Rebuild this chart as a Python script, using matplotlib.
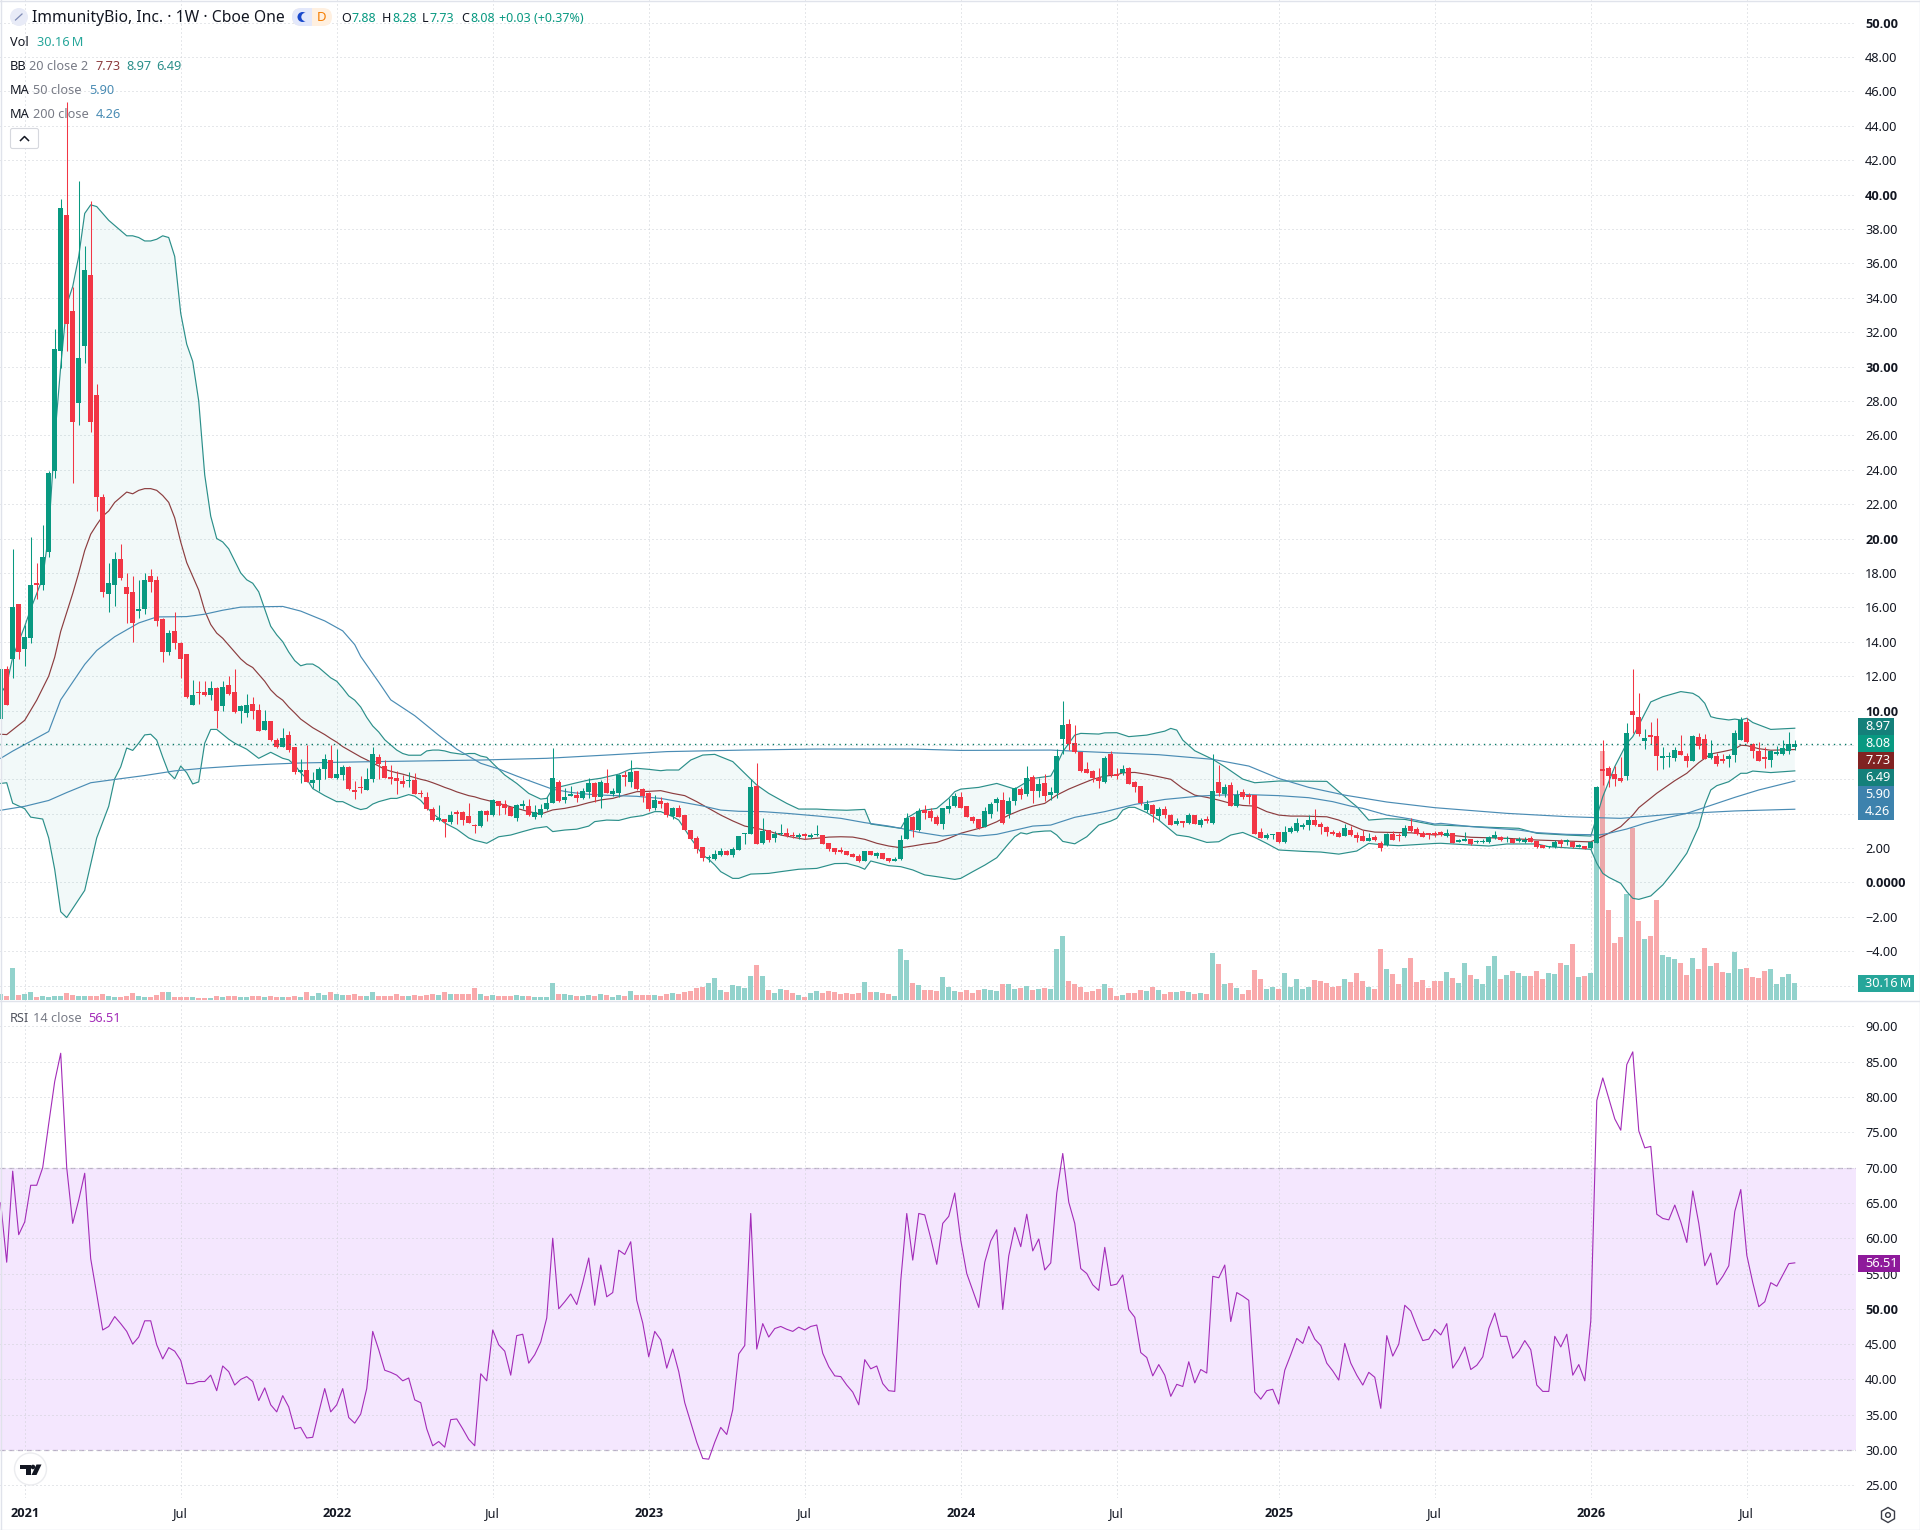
import numpy as np
import matplotlib
matplotlib.use("Agg")
import matplotlib.pyplot as plt
from matplotlib.patches import Circle, FancyBboxPatch, Polygon, Rectangle, RegularPolygon

plt.rcParams['font.family'] = ['Noto Sans', 'DejaVu Sans']

# =================================
# Weekly candles (one row = 10 weeks)
# =================================
opens = [
    9.5,12.4,13,16.2,13.6,14.2,17.35,17.3,19.2,23.9,
    30.9,38.8,33.2,27.9,31.2,35.3,28.35,22.4,16.8,17.3,
    18.8,17.2,16.9,15.8,15.9,17.8,17.6,15.3,13.4,14.6,
    13.9,13.3,10.3,11.05,11.05,10.9,11.3,10.25,11.5,11.1,
    9.95,9.85,10.4,10.05,8.85,9.4,8.3,7.9,8.6,7.9,
    6.45,6.55,5.8,5.95,6.6,7.1,6.1,6.25,6.7,5.35,
    5.5,5.4,6,7.3,6.8,6.07,6.05,5.9,5.88,5.95,
    5.18,5,4.28,3.65,3.7,3.5,4.05,4.1,3.85,3.3,
    3.3,4.15,3.92,4.72,4.56,4.37,3.77,4.45,4.43,3.83,
    3.92,4.25,4.64,5.82,4.8,5.03,5.09,4.89,5.26,5.78,
    4.97,5.78,5.13,5.22,6.19,5.84,6.48,5.45,5.22,4.31,
    4.74,4.64,3.87,4.33,3.92,3.07,2.59,2.04,1.4,1.35,
    1.58,1.85,1.58,1.9,2.8,2.82,5.61,2.3,3.05,2.58,
    2.8,2.86,2.72,2.65,2.75,2.66,2.74,2.74,2.3,1.99,
    1.83,1.81,1.68,1.54,1.25,1.83,1.52,1.72,1.43,1.27,
    1.37,2.53,3.8,3.05,4.22,4.16,3.79,3.4,4.27,4.45,
    4.97,4.44,3.8,3.67,3.22,3.98,4.64,4.79,3.98,4.75,
    5.43,5.14,6.11,5.32,5.78,5.08,5.22,8.34,9.19,8.09,
    7.6,6.6,6.5,6.07,5.86,7.5,6.25,6.34,6.67,5.84,
    5.6,4.21,4.5,3.86,4.27,3.92,3.42,3.57,3.44,3.92,
    3.36,3.62,3.44,5.82,5.14,5.65,4.46,5.26,4.99,5.08,
    2.93,2.58,2.74,2.93,2.35,2.91,3.0,3.2,3.34,3.63,
    3.4,3.22,2.95,2.89,2.72,3.07,2.78,2.7,2.41,2.64,
    2.27,2.18,2.84,2.72,2.72,3.28,3.09,2.86,2.78,2.87,
    2.92,2.7,2.88,2.38,2.41,2.51,2.33,2.34,2.38,2.59,
    2.67,2.51,2.53,2.41,2.36,2.61,2.39,2.18,2.04,2.05,
    2.41,2.36,2.38,2.07,2.12,2.01,2.32,6.54,6.66,6.29,
    6.08,6.21,9.97,9.62,8.23,8.5,8.52,7.25,7.28,7.24,
    7.65,7.36,7.07,8.44,8.34,7.26,7.36,7.1,7.18,7.43,
    8.31,9.31,8.03,7.63,7.22,7.12,7.47,7.47,7.67,7.88,
]
highs = [
    12.5,12.6,19.4,16.2,15,20.1,18.6,20.8,23.9,32.2,
    39.75,45.4,34.6,40.8,37,39.6,29,22.6,18.6,19.2,
    19.7,18,17.8,17.6,18,18.2,17.8,15.4,14.7,15.7,
    14,13.3,11.8,11.7,11.7,11.7,11.35,11.7,12,12.4,
    10.3,10.95,10.8,10.4,10.05,9.4,8.4,9,8.8,7.9,
    7.2,8,6.45,6.7,7.45,8,7.75,6.85,6.8,5.9,
    6.2,6.65,7.9,7.5,7.15,6.85,6.5,6.25,6.45,6.35,
    5.35,5.25,4.4,4.5,3.7,4.15,4.2,4.15,4.65,3.4,
    4.2,4.2,4.85,4.75,4.8,4.37,4.55,4.8,4.85,4.5,
    4.56,4.95,7.8,5.96,5.47,5.61,5.32,5.47,6.05,5.86,
    5.96,6.58,5.5,6.3,6.5,7.12,6.48,5.5,5.25,5.07,
    4.95,4.7,4.4,4.5,3.95,3.07,2.7,2.05,1.6,1.9,
    1.99,1.9,2.06,2.72,2.85,6.04,6.93,3.75,3.05,3,
    3.4,3.15,2.94,2.88,2.86,2.88,3.34,2.74,2.3,1.99,
    2.06,1.82,1.72,1.66,1.83,1.83,1.78,1.72,1.45,1.5,
    2.76,4.02,3.85,4.35,4.5,4.31,3.92,4.33,4.9,5.2,
    5.24,4.46,3.86,3.7,4.39,4.66,4.95,5.24,5,5.57,
    5.57,6.77,6.25,6.07,6.3,5.57,7.74,10.53,9.48,9.13,
    7.6,6.98,6.54,6.65,7.33,7.64,6.63,6.83,6.7,5.92,
    5.6,4.79,4.55,4.4,4.44,3.98,3.75,3.6,4.04,3.95,
    3.73,3.86,7.45,6.83,5.7,5.86,5.37,5.43,5.18,5.08,
    3.15,2.88,2.84,2.95,3.28,3.3,3.73,3.47,3.92,4.25,
    3.49,3.28,3.07,3,3.4,3.28,2.91,3.05,2.85,2.76,
    2.39,2.85,3.01,2.85,3.32,3.73,3.2,2.99,2.85,2.99,
    3,3.09,2.9,2.5,2.92,2.55,2.45,2.5,2.72,3.01,
    2.7,2.72,2.57,2.67,2.65,2.7,2.42,2.2,2.1,2.47,
    2.53,2.53,2.4,2.24,2.14,2.41,5.6,8.28,6.77,6.77,
    7.28,9.25,12.39,11,8.93,9.31,9.55,7.9,7.6,7.9,
    8.58,7.51,8.58,8.67,8.63,8.29,7.51,7.45,7.47,8.87,
    9.64,9.55,8.13,8.15,7.9,7.68,7.94,8.29,8.75,8.28,
]
lows = [
    9.5,10.3,11.9,13,12.6,13.9,16.5,17,18.9,23.5,
    29.9,30.9,23.2,26.6,30.2,26.2,21.6,16.6,15.7,16.1,
    17.6,15.1,14,15.4,15.6,16.9,14.9,12.8,13.2,13.6,
    11.9,10.7,10.3,10.4,10.85,10.6,9,10,10.9,9.85,
    9.3,9.6,9.5,8.8,8.85,8.2,7.8,7.9,7.6,6.3,
    5.8,5.85,5.5,5.3,6,6.05,6,5.95,5.35,4.85,
    5.2,5.4,5.85,6,6.05,5.75,5.15,5.55,5.55,5.15,
    5,4.2,3.6,3.6,2.65,3.4,3.4,3.35,3.45,2.9,
    3.25,3.57,3.85,3.9,4,3.88,3.55,4.25,3.86,3.71,
    3.79,4.2,4.6,4.68,4.62,5.03,4.68,4.83,4.91,4.7,
    4.35,5.2,5.03,4.95,5.6,5.53,5.4,4.7,4.15,4.21,
    4.35,3.83,3.71,3.8,3.05,2.5,1.73,1.27,1.2,1.3,
    1.55,1.6,1.5,1.9,2.24,2.8,2.26,2.24,2.35,2.37,
    2.75,2.65,2.6,2.51,2.53,2.57,2.7,2.24,1.85,1.65,
    1.7,1.58,1.48,1.22,1.25,1.6,1.42,1.35,1.22,1.27,
    1.3,2.5,2.65,3,3.69,3.6,3.34,3.13,4.06,4.4,
    4.35,3.82,3.48,3.13,3.2,3.77,4.17,3.42,3.77,4.52,
    4.85,5.05,4.62,4.95,4.75,4.79,4.89,7.5,7.72,7.54,
    6.4,6.35,5.86,5.49,5.8,6.15,6.01,6.25,5.72,5.28,
    4.48,4.12,3.53,3.63,3.77,3.36,3.34,3.24,3.38,3.4,
    3.22,3.46,3.4,5.05,4.99,4.46,4.4,4.87,4.56,2.84,
    2.58,2.53,2.55,2.3,2.3,2.85,2.95,3.09,3.07,3.3,
    2.84,2.72,2.74,2.66,2.7,2.72,2.37,2.41,2.39,2.41,
    1.83,2.15,2.45,2.43,2.66,2.95,2.76,2.66,2.55,2.65,
    2.7,2.67,2.3,2.35,2.4,2.18,2.3,2.3,2.32,2.55,
    2.4,2.38,2.32,2.36,2.3,2.38,2.03,2,1.98,2,
    2.08,2.18,2.03,2.05,1.93,1.95,2.3,5.67,5.57,5.63,
    5.85,5.96,8.67,8.52,7.76,8.05,6.54,6.6,6.74,7.08,
    7.4,6.74,7.05,7.76,7.18,7.2,6.79,6.93,6.72,7.03,
    8.3,8.1,7.26,7.05,6.68,6.74,7.41,7.4,7.49,7.73,
]
closes = [
    12.4,10.3,16,13.4,14.3,17.3,17.3,18.9,23.8,31,
    39.2,32.5,26.8,30.5,35.6,26.8,22.4,16.9,17.4,18.8,
    17.7,16.8,15.1,15.9,17.6,17.5,15.2,13.4,14.5,13.9,
    13,10.8,10.9,11,10.9,11.3,10,11.35,10.95,9.9,
    10.25,10.3,10,8.8,9.4,8.3,7.85,8.4,7.7,6.4,
    6.5,5.85,5.95,6.6,7.2,6.05,6.3,6.7,5.45,5.25,
    5.48,6,7.45,6.9,6.1,6.03,5.9,5.75,5.92,5.15,
    5.13,4.25,3.65,3.75,3.5,3.95,4,3.65,3.45,3.27,
    4.16,3.92,4.8,4.45,4.33,3.88,4.5,4.48,3.94,4.08,
    4.27,4.62,6.08,4.76,4.97,5.15,4.91,5.34,5.78,4.97,
    5.84,5.2,5.32,6.27,6.15,6.42,5.44,5.03,4.25,4.78,
    4.54,3.92,4.33,3.81,3.07,2.53,1.97,1.4,1.43,1.66,
    1.85,1.62,1.95,2.7,2.83,5.55,2.26,3.01,2.45,2.8,
    2.84,2.68,2.68,2.76,2.72,2.78,2.78,2.24,1.95,1.75,
    1.78,1.6,1.5,1.25,1.83,1.6,1.7,1.39,1.25,1.3,
    2.47,3.75,3.05,4.16,4.02,3.77,3.4,4.33,4.45,5.03,
    4.35,3.82,3.57,3.18,4.13,4.56,4.83,3.46,4.73,5.49,
    5.08,6.07,5.32,5.7,5.03,5.26,7.33,9.13,8.07,7.56,
    6.48,6.36,6.09,5.9,7.24,6.25,6.2,6.6,5.72,5.57,
    4.6,4.58,4,4.25,3.94,3.36,3.57,3.47,3.92,3.42,
    3.63,3.58,5.32,5.2,5.55,4.46,5.08,4.97,4.96,2.84,
    2.58,2.76,2.82,2.35,2.91,3.15,3.46,3.36,3.63,3.34,
    3.2,2.93,2.8,2.66,3.17,2.76,2.6,2.41,2.58,2.45,
    2.02,2.82,2.49,2.68,3.15,2.99,2.84,2.66,2.75,2.74,
    2.77,2.86,2.3,2.47,2.53,2.26,2.37,2.42,2.63,2.74,
    2.47,2.55,2.32,2.44,2.49,2.38,2.07,2.03,2.06,2.38,
    2.24,2.39,2.05,2.1,1.95,2.36,5.55,6.5,6.21,6.02,
    5.88,8.69,9.74,8.62,8.4,8.46,7.38,7.3,7.33,7.69,
    7.41,7.07,8.52,7.94,7.18,7.51,6.89,7.06,7.36,8.67,
    9.45,8.19,7.67,7.08,7.18,7.65,7.59,7.8,8.05,8.08,
]

# Volume in millions of shares
volumes = [
    10,7,56,8.4,10.5,14,5,7,5,6.3,
    7.7,12,8.4,7,7.7,7,7,10.5,7.7,5,
    5,7,12,7,5,5,8.4,14,14,5,
    5,5,5,3.5,3.5,3.5,7,5,6.3,7,
    5.6,5,6.3,7,5,7,5.6,5,5,7,
    6,15,7,12,8.4,14,11,8.4,8.4,10.5,
    7,7,15,7,7,7,10.5,7,7,8,
    7,8,11,8,15,10.5,10,10,10.5,22,
    10.6,7,9,7,7,7,9,7,7,5.3,
    5.3,5.3,30,10.6,10.6,8.9,7,7,8.9,7,
    10.6,8.9,5.3,8.9,7,16,8.9,8.9,8.9,8.9,
    7,10.6,12.4,10.6,14,16,21,23,30,39,
    17.7,14,26.5,25,21,42.5,62,42.5,17.7,12.4,
    19.5,17.7,12.4,8.9,5.3,12.4,16,12.4,16,14,
    10.6,12.4,10.6,12.4,32,14,14,12.4,10.6,7,
    90,71,30,26.5,17.7,17.7,16,41,23,16,
    14,17.7,12.4,17.7,19.5,17.7,16,28,28,19.5,
    21,25,17.7,19.5,21,19.5,90,113,33.6,28,
    23,14,16,19.5,28,21,7,8.9,12.4,12.4,
    17.7,16,23,17.7,10.6,14,14,16,14,10.6,
    12.4,10.6,83,64,28,30,21,10.6,17.7,53,
    37,19.5,23,19.5,48,23,37,19.5,23,35,
    33.6,30,23,25,37,32,48,33.6,23,19.5,
    90,55,46,28,57,74,32,35,21,33.6,
    34,50,39,30,65,44,37,28,60,78,
    37,44,51,48,42.5,42.5,51,37,48,46,
    65,62,99,41,42.5,48,330,442,159,101,
    111,188,305,140,108,113,177,80,76,73,
    65,44,74,55,92,60,65,50,48,85,
    55,57,41,39,51,55,28,41,46,30.16,
]

rsi = [
    65,56.6,69.5,60.5,62.3,67.5,67.5,70,76.2,82.2,
    86.2,70,62.1,65.4,69.2,57.1,52.1,47,47.5,48.9,
    47.9,46.8,45,46,48.3,48.3,44.9,42.9,44.5,44,
    42.7,39.4,39.4,39.7,39.7,40.6,38.4,41.9,41.1,39.2,
    40,40.4,39.7,37,38.8,36.4,35.4,37.7,36.1,33,
    33.2,31.7,31.8,35.3,38.7,35.4,36.4,38.7,34.6,33.8,
    35.1,38.7,46.8,44.2,41.3,41,40.6,39.8,40.2,37.1,
    36.7,33,30.6,31.2,30.4,34.3,34.4,33,31.5,30.6,
    40.8,39.8,47,44.9,44,40.6,46.2,46.4,42.3,43.5,
    45.3,48.7,60,50,51,52.1,50.6,53.7,57.2,50.5,
    56.2,51.7,52.3,58.3,57.7,59.5,51.2,48,43.2,46.8,
    45.6,41.6,44.3,41.1,36.7,33.9,31.1,28.8,28.7,31.1,
    33.2,32.2,35.7,43.6,44.8,63.5,44.3,47.9,46,47.2,
    47.5,47.1,46.8,47.4,47,47.5,47.7,43.7,41.8,40.5,
    40.4,39.2,38.2,36.4,42.8,41.5,41.9,39.4,38.4,38.3,
    54,63.5,56.9,63.5,63.3,60,56.3,62.1,63.1,66.4,
    59.7,55,52.6,50.2,56.6,59.6,61.2,49.9,57.5,61.5,
    58.8,63.4,58.2,59.9,55.5,56.5,66.4,72,65.1,62.1,
    55.7,55,53.4,52.6,58.7,53.3,53.5,54.8,49.9,48.8,
    43.8,43.1,40.5,42.1,40.6,37.6,39.3,39,42.5,39.5,
    41.4,40.9,54.6,54.4,56.2,48.2,52.3,51.8,51.2,38.2,
    37.2,38.4,38.6,36.5,41.3,43.5,45.8,45.1,47.5,45.7,
    44.8,42.3,41.2,39.9,45.1,42.3,40.6,39.2,41,40.3,
    35.9,46.2,43.3,45,50.5,49.7,47.5,45.5,45.7,47.1,
    46.3,47.9,41.6,42.9,44.6,41.4,42,43.2,47.2,49.4,
    46.1,46.1,43,44,45.5,44.2,39.2,38.3,38.3,46.1,
    44.6,46.4,40.6,42.1,39.8,48.3,79.5,82.7,79.8,76.9,
    75.3,84.6,86.4,75.2,72.8,73,63.4,62.8,62.6,64.7,
    62.3,59.4,66.7,62.1,56.1,57.9,53.4,54.6,56.1,63.8,
    66.9,57.6,53.7,50.3,51,53.7,53.2,54.8,56.4,56.51,
]

# =================================
# Indicator lines, read at these weeks
# =================================
bb_upper_wk = [0,1,2,4,5,7,8,9,10,11,12,13,14,15,16,17,18,19,20,21,22,23,24,25,26,27,28,29,30,31,32,33,
    34,35,36,37,38,39,40,41,42,43,44,45,46,47,48,49,50,51,52,53,54,55,56,57,58,59,60,61,62,63,64,65,66,67,68,69,70,71,72,73,74,75,76,77,78,79,
    80,81,82,84,86,88,90,91,92,94,96,98,100,103,105,106,108,110,111,113,115,117,119,122,124,126,128,131,133,136,138,141,144,145,150,151,153,156,158,159,
    160,163,166,169,171,172,175,176,177,178,179,180,183,184,186,188,191,194,195,196,197,199,202,204,207,209,213,221,223,226,228,231,234,239,
    240,248,253,256,261,265,266,267,269,271,272,275,277,279,280,282,283,284,285,286,288,289,290,291,292,295,299]
bb_upper = [11,11.5,13.1,14.9,15.9,17.7,20.3,25.8,30,33.6,34.65,36.4,38.9,39.4,39.3,38.9,38.5,38.2,37.9,37.6,37.6,37.5,37.3,37.3,37.4,37.6,37.5,36.4,33.1,31.3,30.3,28,
    23.7,21.3,20,19.8,19.4,18.7,18,17.6,17.4,16.9,15.9,14.9,14.4,14,13.4,12.9,12.6,12.7,12.7,12.5,12.2,11.9,11.7,11.3,10.85,10.6,10.2,9.6,9.1,8.75,8.3,8,7.7,7.5,7.4,7.4,7.4,7.65,7.7,7.7,7.65,7.55,7.5,7.45,7.5,7.5,
    7.35,7.28,6.93,6.25,5.76,5.18,4.85,4.89,5.47,5.63,5.8,5.96,6.06,6.3,6.6,6.64,6.58,6.5,6.54,6.54,7.12,7.41,7.45,7.03,6.35,5.67,5.18,4.6,4.27,4.27,4.23,4.2,4.25,3.4,3.15,3.75,4.16,4.31,4.9,5.28,
    5.43,5.53,5.76,5.43,5.85,6.05,6.19,6.83,7.6,8.09,8.57,8.67,8.63,8.7,8.71,8.48,8.57,8.8,8.96,8.86,8.28,7.66,7.16,6.73,6.01,5.8,5.9,5.88,5.28,4.41,3.63,3.71,3.67,3.34,
    3.34,3.21,3.15,2.86,2.76,2.7,3.83,4.99,6.74,8.09,8.48,10.5,10.8,11,11.1,11,10.8,10.42,9.64,9.55,9.45,9.5,9.45,9.55,9.3,8.9,8.97]

bb_mid_wk = [0,1,4,6,8,9,10,12,13,14,15,16,17,18,19,20,21,22,23,24,25,26,27,28,29,30,31,32,33,34,35,36,37,38,39,40,41,42,43,44,45,46,47,48,49,50,51,52,53,54,55,56,57,58,59,60,61,62,63,64,65,66,67,68,69,70,71,72,73,74,75,76,77,78,79,
    80,82,84,86,88,90,92,94,96,98,100,102,104,106,108,110,112,114,116,118,120,122,124,126,128,130,132,134,136,138,140,142,144,146,148,150,152,154,156,158,
    160,162,164,166,168,170,172,174,176,178,180,182,184,186,187,189,191,193,195,197,199,201,203,205,207,209,211,213,215,217,221,223,225,227,229,232,235,239,
    240,245,251,256,261,265,266,268,270,272,273,276,279,281,283,284,285,287,289,290,291,293,295,299]
bb_mid = [8.62,8.6,9.43,10.6,12,13.1,14.6,16.8,18,19.3,20.25,20.8,21.3,21.6,22.1,22.4,22.7,22.6,22.8,22.9,22.9,22.8,22.5,22.1,21.2,19.8,18.6,17.8,17,15.8,15,14.5,14.2,13.8,13.4,13,12.7,12.5,12.1,11.7,11.2,10.85,10.6,10.2,9.86,9.5,9.25,9,8.8,8.6,8.37,8.16,7.9,7.7,7.5,7.3,7.13,6.95,6.77,6.58,6.47,6.38,6.3,6.2,6.1,6,5.92,5.8,5.67,5.53,5.41,5.27,5.16,5.05,4.98,
    4.87,4.7,4.5,4.31,4.12,3.98,4.22,4.31,4.45,4.64,4.8,4.89,5.09,5.28,5.3,5.34,5.18,5.05,4.7,4.31,3.92,3.58,3.28,3.15,2.99,2.76,2.63,2.51,2.57,2.64,2.66,2.64,2.51,2.28,2.12,2.02,2.12,2.24,2.33,2.57,
    2.86,3.05,3.24,3.53,3.92,4.21,4.44,4.6,5.08,5.43,5.72,6,6.19,6.25,6.38,6.4,6.29,6.15,6,5.47,5.08,4.95,4.79,4.6,4.48,4.44,4.12,3.92,3.86,3.86,3.82,3.63,3.34,3.05,2.93,2.91,2.89,2.76,
    2.8,2.63,2.57,2.47,2.41,2.36,2.53,2.86,3.25,3.92,4.35,5.19,5.92,6.35,6.97,7.22,7.47,7.61,7.76,7.98,7.96,7.78,7.69,7.73]

bb_lower_wk = [0,1,2,4,5,7,8,9,10,11,14,16,18,19,20,21,22,23,24,25,26,27,28,29,30,31,32,33,34,35,36,38,39,41,43,45,47,48,49,50,51,52,54,56,57,59,60,61,62,63,65,66,68,69,70,71,72,73,74,76,78,79,
    80,81,82,83,85,87,89,91,92,94,96,98,99,101,103,105,107,109,110,112,113,115,117,118,119,120,122,123,125,128,130,133,136,139,141,143,144,145,148,150,152,154,156,159,
    160,162,164,166,168,169,170,171,172,174,175,176,177,179,181,183,185,186,187,188,189,191,193,196,198,201,203,205,207,209,211,213,217,220,223,226,228,230,233,239,
    240,248,251,256,258,265,266,267,268,270,271,272,273,275,277,279,281,283,284,285,286,288,290,291,292,295,299]
bb_lower = [5.76,5.8,4.61,4.29,3.8,3.69,2.59,0.76,-1.7,-2.04,-0.46,2.59,4.43,6.03,6.72,7.82,7.68,8.1,8.58,8.62,8.28,7.29,6.38,6.03,6.77,6.38,5.73,5.85,8.1,8.9,8.9,8.33,8.1,7.75,7.22,7.57,7.22,7.13,6.83,6.38,6.03,5.46,5.05,4.7,4.7,4.36,4.24,4.31,4.56,4.7,4.89,4.89,5.11,5.02,4.77,4.38,4.01,3.74,3.46,3.1,2.59,2.45,
    2.37,2.28,2.47,2.66,2.76,2.96,3.15,3.25,2.96,3.05,3.1,3.28,3.54,3.63,3.61,3.79,3.89,4.12,4.12,3.83,3.63,2.57,1.6,1.35,1.02,0.63,0.24,0.24,0.49,0.53,0.63,0.77,0.82,1.1,1.11,0.92,0.77,1.25,0.98,0.92,0.73,0.44,0.34,0.18,
    0.24,0.63,1.01,1.44,2.27,2.66,2.89,2.82,2.93,2.99,3,2.76,2.39,2.25,2.66,3.34,3.57,3.73,4.21,4.37,4.37,4.06,3.63,2.76,2.66,2.33,2.37,2.76,2.91,2.62,2.27,1.89,1.81,1.77,1.65,1.83,2.27,2.2,2.14,2.27,
    2.28,2.12,2.24,2.24,2.08,1.93,1.12,0.53,0.3,-0.05,-0.53,-0.92,-0.98,-0.78,-0.14,0.73,1.7,3.25,4.51,5.38,5.63,5.86,6.35,6.35,6.48,6.39,6.49]

ma50_wk = [0,2,5,8,10,12,14,16,19,23,26,31,34,37,40,43,47,50,54,57,59,60,63,65,69,73,76,
    80,83,86,89,92,95,98,101,106,110,114,117,120,123,127,131,136,140,144,148,150,153,157,
    160,163,166,172,175,179,184,189,194,200,203,207,213,218,222,225,227,231,235,239,
    240,245,253,256,261,265,266,268,271,274,278,281,286,289,293,299]
ma50 = [7.22,7.64,8.21,8.78,10.62,11.65,12.68,13.49,14.29,15.09,15.44,15.46,15.6,15.83,16.01,16.03,16.05,15.78,15.21,14.63,13.83,13.14,11.65,10.62,9.7,8.56,7.75,
    6.93,6.6,6.19,5.8,5.42,5.24,5.13,5.07,5.01,4.89,4.64,4.45,4.21,4.14,4.12,4.02,3.87,3.73,3.48,3.28,3.15,2.92,2.7,
    2.82,2.7,2.8,3.28,3.34,3.79,4.12,4.54,4.83,5.03,5.08,5.12,5.05,4.93,4.7,4.44,4.31,3.92,3.69,3.4,
    3.44,3.25,3.05,2.9,2.8,2.78,2.74,2.86,3.11,3.44,3.79,4.02,4.6,4.95,5.38,5.9]

ma200_wk = [0,4,8,11,15,19,24,29,34,40,45,50,61,80,91,101,111,124,136,152,160,175,184,193,202,208,213,218,224,231,239,251,261,266,270,279,289,299]
ma200 = [4.2,4.43,4.77,5.23,5.8,5.99,6.22,6.49,6.65,6.79,6.88,6.95,7.02,7.12,7.22,7.41,7.61,7.7,7.76,7.76,7.68,7.7,7.56,7.43,7.16,6.77,6.05,5.53,5.08,4.68,4.35,4.02,3.83,3.77,3.73,3.98,4.16,4.26]

# =================================
# Axis ticks
# =================================
price_ticks = list(range(-6, 52, 2))
price_bold = [0, 10, 20, 30, 40, 50]
price_hidden = [-6, 4, 6, 8]  # sit behind the last value tags
rsi_ticks = list(range(25, 95, 5))
time_ticks = [4, 30, 56, 82, 108, 134, 160, 186, 213, 239, 265, 291]
time_labels = ['2021', 'Jul', '2022', 'Jul', '2023', 'Jul', '2024', 'Jul', '2025', 'Jul', '2026', 'Jul']

# =================================
# Colors
# =================================
GREEN = '#089981'
RED = '#f23645'
VOL_GREEN = '#92d2cc'
VOL_RED = '#f9a9ab'
BB_BAND = '#2b8f8a'
BB_MID = '#8c3d3f'
MA_BLUE = '#4a8cb4'
PURPLE = '#a32cb8'
TEXT = '#131722'
GREY = '#787b86'
GRID = '#cdd0d6'
BORDER = '#e0e3eb'
DOT = (0, (1, 3))

W, H = 1920, 1530
PANE_R = 1856
MAIN_B = 1001
RSI_T, RSI_B = 1002, 1498

fig = plt.figure(figsize=(W / 100, H / 100), dpi=100, facecolor='white')


def pane(top, bottom, z):
    ax = fig.add_axes([0, 1 - bottom / H, PANE_R / W, (bottom - top) / H], zorder=z)
    ax.set_xlim(-0.117, 309.2)
    ax.patch.set_alpha(0)
    for s in ax.spines.values():
        s.set_visible(False)
    return ax


def embolden(lab):
    lab.set_family(['Open Sans', 'DejaVu Sans'])
    lab.set_fontweight('bold')


# =================================
# Base pane: grid and price scale
# =================================
ax_grid = pane(0, MAIN_B, 1)
ax_grid.set_ylim(-6.89, 51.31)
ax_grid.set_xticks(time_ticks)
ax_grid.tick_params(axis='x', length=0, labelbottom=False)
ax_grid.yaxis.tick_right()
ax_grid.set_yticks(price_ticks)
labels = []
for v in price_ticks:
    if v in price_hidden:
        labels.append('')
    elif v == 0:
        labels.append('0.0000')
    elif v < 0:
        labels.append('\u2212%.2f' % abs(v))
    else:
        labels.append('%.2f' % v)
ax_grid.set_yticklabels(labels, fontsize=9.2, color=TEXT)
ax_grid.tick_params(axis='y', length=0, pad=6.5)
for tick, v in zip(ax_grid.yaxis.get_major_ticks(), price_ticks):
    tick.label2.set_va('center_baseline')
    if v in price_bold:
        embolden(tick.label2)
ax_grid.grid(True, color=GRID, lw=0.72, ls=DOT)
ax_grid.set_axisbelow(True)

# =================================
# Volume
# =================================
x = np.arange(len(closes))
o = np.array(opens)
h = np.array(highs)
l = np.array(lows)
c = np.array(closes)
up = c >= o

ax_vol = pane(0, MAIN_B, 2)
ax_vol.set_ylim(-1.774, 1774)
ax_vol.axis('off')
ax_vol.bar(x, volumes, width=0.84, color=np.where(up, VOL_GREEN, VOL_RED), linewidth=0)

# =================================
# Candles + Bollinger + MAs
# =================================
ax = pane(0, MAIN_B, 3)
ax.set_ylim(-6.89, 51.31)
ax.axis('off')

ax.fill(np.r_[bb_upper_wk, bb_lower_wk[::-1]], np.r_[bb_upper, bb_lower[::-1]],
        color='#26a69a', alpha=0.06, lw=0, zorder=1)
ax.plot(bb_upper_wk, bb_upper, color=BB_BAND, lw=0.85, zorder=2)
ax.plot(bb_lower_wk, bb_lower, color=BB_BAND, lw=0.85, zorder=2)
ax.plot(bb_mid_wk, bb_mid, color=BB_MID, lw=0.85, zorder=2)
ax.plot(ma50_wk, ma50, color=MA_BLUE, lw=0.85, zorder=2)
ax.plot(ma200_wk, ma200, color=MA_BLUE, lw=0.85, zorder=2)

colors = np.where(up, GREEN, RED)
body_low = np.minimum(o, c)
body_h = np.maximum(np.abs(c - o), 0.1)
ax.vlines(x, l, h, colors=colors, lw=0.75, zorder=3)
ax.bar(x, body_h, bottom=body_low, width=0.82, color=colors, linewidth=0, zorder=4)

ax.axhline(closes[-1], color='#0a7866', lw=1.0, ls=DOT, zorder=5)

# =================================
# RSI pane
# =================================
ax_rsi = pane(RSI_T, RSI_B, 1)
ax_rsi.set_ylim(23.2, 93.46)
ax_rsi.axhspan(30, 70, color='#f4e7fe', lw=0, zorder=0)
ax_rsi.axhline(70, color='#b9aec6', lw=0.9, ls=(0, (4, 3)), zorder=1)
ax_rsi.axhline(30, color='#b9aec6', lw=0.9, ls=(0, (4, 3)), zorder=1)
ax_rsi.plot(x, rsi, color=PURPLE, lw=0.8, zorder=3)
ax_rsi.yaxis.tick_right()
ax_rsi.set_yticks(rsi_ticks)
ax_rsi.set_yticklabels(['%.2f' % v for v in rsi_ticks], fontsize=9.2, color=TEXT)
ax_rsi.tick_params(axis='y', length=0, pad=6.5)
for tick, v in zip(ax_rsi.yaxis.get_major_ticks(), rsi_ticks):
    tick.label2.set_va('center_baseline')
    if v == 50:
        embolden(tick.label2)
ax_rsi.set_xticks(time_ticks)
ax_rsi.set_xticklabels(time_labels, fontsize=9.2, color=TEXT)
ax_rsi.tick_params(axis='x', length=0, pad=6.8)
for lab, t in zip(ax_rsi.get_xticklabels(), time_labels):
    if t != 'Jul':
        embolden(lab)
ax_rsi.grid(True, color=GRID, lw=0.72, ls=DOT, zorder=1)
ax_rsi.set_axisbelow(False)

# =================================
# Overlay in pixel coordinates: legend, tags, borders
# =================================
ov = fig.add_axes([0, 0, 1, 1], zorder=10)
ov.set_xlim(0, W)
ov.set_ylim(H, 0)
ov.axis('off')


def put(px, py, s, color=TEXT, size=9.2, **kw):
    kw.setdefault('ha', 'left')
    kw.setdefault('va', 'center')
    return ov.text(px, py, s, color=color, fontsize=size, **kw)


def tag(py, s, color, x1=1893.5):
    ov.add_patch(Rectangle((1858, py - 8.5), x1 - 1858, 17, color=color, lw=0))
    put(1865, py, s, color='white')


# frame
ov.plot([0.5, 0.5], [0, H], color=BORDER, lw=1)
ov.plot([0, W], [0.5, 0.5], color=BORDER, lw=1)
ov.plot([W - 0.5, W - 0.5], [0, H], color=BORDER, lw=1)
ov.plot([0, W], [H - 0.5, H - 0.5], color=BORDER, lw=1)
ov.plot([0, W], [MAIN_B, MAIN_B], color=BORDER, lw=1)

# symbol row
ov.add_patch(Circle((19, 17), 9, color='#e8ebf7', lw=0))
ov.plot([15.5, 22], [20, 14], color='#7e8bb5', lw=0.9)
put(32, 18, 'ImmunityBio, Inc. \u00b7 1W \u00b7 Cboe One', size=11.3)

pill = FancyBboxPatch((292, 8), 40, 18, boxstyle='round,pad=0,rounding_size=9', fc='#fff0e0', ec='none')
ov.add_patch(pill)
left = Rectangle((292, 8), 20, 18, color='#e3e8fb', lw=0)
ov.add_patch(left)
left.set_clip_path(pill)
ov.add_patch(Circle((302.5, 17), 5, color='#1848cc', lw=0))
ov.add_patch(Circle((305.5, 17), 4.2, color='#e3e8fb', lw=0))
put(321, 17.5, 'D', color='#f57c00', size=9.5, ha='center', fontweight='bold')

ohlc_x = [(341, 'O', 352, '7.88'), (382, 'H', 392, '8.28'), (422, 'L', 430, '7.73'), (461, 'C', 470, '8.08')]
for lx, ls, vx, vs in ohlc_x:
    put(lx, 18, ls, size=9)
    put(vx, 18, vs, color=GREEN, size=9)
put(499, 18, '+0.03 (+0.37%)', color=GREEN, size=9)

# indicator rows
put(10, 42, 'Vol', size=9.2)
put(37, 42, '30.16\u2009M', color='#26a69a', size=9.2)
put(10, 66, 'BB', size=9.2)
put(29, 66, '20 close 2', color=GREY, size=9.2)
put(96, 66, '7.73', color='#8c3d3f', size=9.2)
put(126, 66, '8.97', color='#2b8f8a', size=9.2)
put(156, 66, '6.49', color='#2b8f8a', size=9.2)
put(10, 90, 'MA', size=9.2)
put(33, 90, '50 close', color=GREY, size=9.2)
put(89, 90, '5.90', color=MA_BLUE, size=9.2)
put(10, 114, 'MA', size=9.2)
put(33, 114, '200 close', color=GREY, size=9.2)
put(96, 114, '4.26', color=MA_BLUE, size=9.2)
put(10, 1018, 'RSI', color='#50535e', size=9.2)
put(33, 1018, '14 close', color=GREY, size=9.2)
put(88, 1018, '56.51', color=PURPLE, size=9.2)

# collapse button
ov.add_patch(FancyBboxPatch((10.5, 128.5), 28, 20, boxstyle='round,pad=0,rounding_size=2', fc='white', ec='#d6d8de', lw=0.8))
ov.plot([20.5, 24.5, 28.5], [140.5, 136.5, 140.5], color=TEXT, lw=1.1)

# last value tags
tag(726.5, '8.97', '#14807a')
tag(743.5, '8.08', GREEN)
tag(760.5, '7.73', '#802222')
tag(777.5, '6.49', '#14807a')
tag(794.5, '5.90', '#3d82ad')
tag(811.5, '4.26', '#3d82ad')
tag(983.5, '30.16\u2009M', '#26a69a', x1=1914)
tag(1263.5, '56.51', '#8e1a9b', x1=1900)

# TradingView badge
ov.add_patch(Circle((30.5, 1469), 16, fc='white', ec='#ebecef', lw=1))
ov.add_patch(Polygon([(20, 1464.5), (30.5, 1464.5), (30.5, 1475), (26, 1475), (26, 1469), (20, 1469)], color='#131722', lw=0))
ov.add_patch(Circle((33, 1467), 2.3, color='#131722', lw=0))
ov.add_patch(Polygon([(36.5, 1464.5), (41.5, 1464.5), (36.5, 1475), (31.5, 1475)], color='#131722', lw=0))

# settings icon
ov.add_patch(RegularPolygon((1888, 1515), 6, radius=7.5, fc='none', ec='#3b3e48', lw=1))
ov.add_patch(Circle((1888, 1515), 2.4, fc='none', ec='#3b3e48', lw=1))

fig.savefig('out.png', dpi=100)
